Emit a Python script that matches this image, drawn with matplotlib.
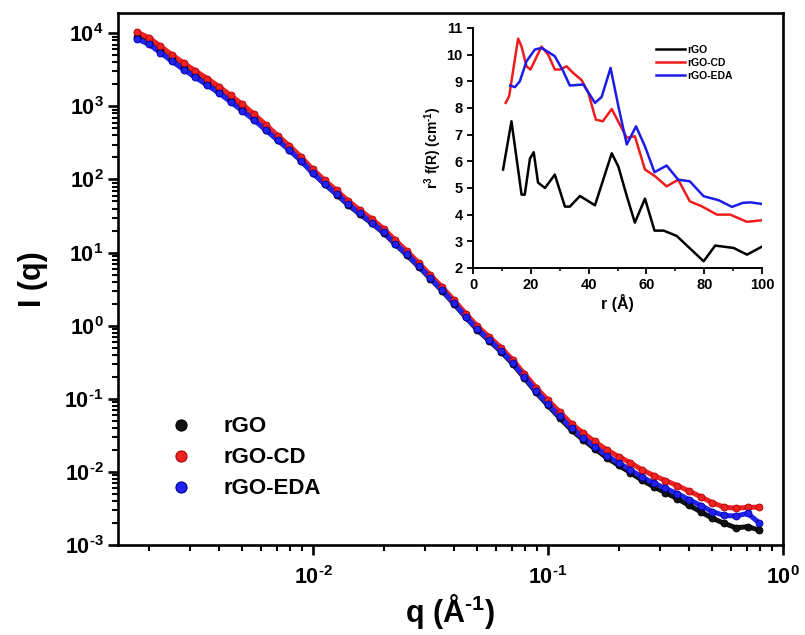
"""
SAXS intensity curves of rGO, rGO-CD and rGO-EDA with an inset showing the
size distribution r^3 f(R).
"""

import math

import matplotlib

matplotlib.use("Agg")

import matplotlib.pyplot as plt
from matplotlib.lines import Line2D
from matplotlib.ticker import FuncFormatter, LogLocator, MultipleLocator, NullFormatter

# Main panel: scattering vector q (1/A) shared by the three samples.
q = [
    0.00178, 0.00200, 0.00224, 0.00251, 0.00282, 0.00316, 0.00355, 0.00398,
    0.00447, 0.00501, 0.00562, 0.00631, 0.00708, 0.00794, 0.00891, 0.0100,
    0.0112, 0.0126, 0.0141, 0.0158, 0.0178, 0.0200, 0.0224, 0.0251,
    0.0282, 0.0316, 0.0355, 0.0398, 0.0447, 0.0501, 0.0562, 0.0631,
    0.0708, 0.0794, 0.0891, 0.100, 0.112, 0.126, 0.141, 0.158,
    0.178, 0.200, 0.224, 0.251, 0.282, 0.316, 0.355, 0.398,
    0.447, 0.501, 0.562, 0.631, 0.708, 0.794,
]

i_rgo = [
    8820, 7430, 5720, 4350, 3340, 2610, 2050, 1580,
    1190, 890, 662, 480, 349, 253, 180, 121,
    86.8, 62.3, 45.0, 33.6, 25.1, 18.5, 13.0, 9.20,
    6.40, 4.38, 2.98, 1.99, 1.30, 0.872, 0.622, 0.443,
    0.300, 0.192, 0.122, 0.0810, 0.0550, 0.0374, 0.0277, 0.0208,
    0.0156, 0.0123, 0.00980, 0.00772, 0.00627, 0.00520, 0.00430, 0.00350,
    0.00285, 0.00232, 0.00198, 0.00172, 0.00178, 0.00160,
]

i_rgo_cd = [
    10400, 8710, 6700, 5090, 3910, 3060, 2400, 1870,
    1410, 1066, 779, 557, 399, 289, 203, 137,
    98.2, 70.8, 51.3, 38.4, 28.8, 21.2, 14.8, 10.5,
    7.21, 4.93, 3.36, 2.24, 1.46, 0.985, 0.704, 0.503,
    0.341, 0.219, 0.142, 0.0957, 0.0666, 0.0455, 0.0341, 0.0262,
    0.0200, 0.0162, 0.0134, 0.0107, 0.00893, 0.00763, 0.00650, 0.00549,
    0.00458, 0.00378, 0.00330, 0.00318, 0.00328, 0.00330,
]

i_rgo_eda = [
    8400, 7080, 5450, 4140, 3180, 2490, 1950, 1520,
    1150, 867, 649, 472, 344, 251, 180, 122,
    87.7, 63.2, 45.8, 34.3, 25.7, 18.9, 13.3, 9.42,
    6.55, 4.48, 3.05, 2.04, 1.33, 0.895, 0.640, 0.457,
    0.310, 0.199, 0.127, 0.0847, 0.0579, 0.0396, 0.0294, 0.0222,
    0.0167, 0.0133, 0.0107, 0.00853, 0.00703, 0.00596, 0.00504, 0.00419,
    0.00347, 0.00286, 0.00254, 0.00249, 0.00271, 0.00200,
]

# Inset: r^3 f(R) versus r (A), one r grid per sample.
r_rgo = [10.4, 13.3, 16.8, 17.9, 19.7, 21.0, 22.5, 24.9, 28.3, 31.8, 33.5,
         37.0, 42.2, 48.0, 50.3, 53.2, 56.0, 59.5, 62.8, 66.0, 70.5, 79.8,
         83.8, 90.2, 94.8, 100.0]
f_rgo = [5.69, 7.50, 4.75, 4.75, 6.10, 6.34, 5.20, 5.00, 5.50, 4.30, 4.30,
         4.70, 4.35, 6.30, 5.80, 4.70, 3.70, 4.60, 3.40, 3.40, 3.20, 2.25,
         2.84, 2.75, 2.50, 2.80]

r_rgo_cd = [11.3, 12.5, 15.6, 16.8, 18.5, 19.9, 23.7, 26.0, 28.3, 30.0, 32.4,
            34.7, 37.6, 39.9, 42.5, 44.9, 48.0, 53.2, 56.0, 59.5, 63.0, 67.0,
            71.0, 75.0, 79.2, 84.4, 89.0, 94.8, 100.0]
f_rgo_cd = [8.19, 8.44, 10.60, 10.30, 9.56, 9.44, 10.30, 10.00, 9.44, 9.44,
            9.56, 9.31, 9.04, 8.56, 7.56, 7.50, 7.96, 6.88, 6.94, 5.69, 5.44,
            5.06, 5.31, 4.50, 4.31, 4.00, 4.00, 3.73, 3.79]

r_rgo_eda = [12.9, 14.5, 16.2, 18.5, 21.4, 23.7, 26.0, 28.3, 31.2, 33.5, 38.2,
             42.2, 44.5, 47.6, 50.3, 53.2, 56.4, 59.5, 62.8, 67.0, 71.0, 75.0,
             79.8, 85.0, 89.6, 93.3, 96.0, 100.0]
f_rgo_eda = [8.84, 8.78, 9.00, 9.75, 10.19, 10.25, 10.10, 9.94, 9.38, 8.84,
             8.88, 8.19, 8.41, 9.50, 8.06, 6.63, 7.31, 6.56, 5.59, 5.84, 5.31,
             5.25, 4.69, 4.54, 4.29, 4.44, 4.46, 4.40]

labels = ["rGO", "rGO-CD", "rGO-EDA"]
colors = ["#111111", "#ee2222", "#2222ee"]
edge_colors = ["#000000", "#b00000", "#0000a0"]


def decade_label(value, _pos):
    """Format a decade as 10^n with a short hyphen for negative powers."""
    power = int(round(math.log10(value)))
    if power < 0:
        return r"$\mathregular{10^{\text{-}%d}}$" % abs(power)
    return r"$\mathregular{10^{%d}}$" % power


def make_figure(output_name: str = "out.png") -> None:
    """Draw the log-log SAXS curves and the inset, then save as PNG."""
    plt.rcParams["font.family"] = ["Liberation Sans", "DejaVu Sans"]
    plt.rcParams["font.weight"] = "bold"
    plt.rcParams["mathtext.fontset"] = "custom"
    plt.rcParams["mathtext.rm"] = "Liberation Sans:bold"
    plt.rcParams["mathtext.it"] = "Liberation Sans:italic:bold"
    plt.rcParams["mathtext.bf"] = "Liberation Sans:bold"

    fig = plt.figure(figsize=(8.05, 6.35), dpi=100)
    ax = fig.add_axes([0.1466, 0.1417, 0.826, 0.838])

    curves = [i_rgo, i_rgo_cd, i_rgo_eda]
    for intensity, color, edge in zip(curves, colors, edge_colors):
        ax.plot(q, intensity, "-", color=color, lw=3.6, zorder=2)
        ax.plot(q, intensity, "o", color=color, mec=edge, mew=0.6,
                ms=5.0, zorder=3)

    ax.set_xscale("log")
    ax.set_yscale("log")
    ax.set_xlim(0.00148, 1.0)
    ax.set_ylim(1e-3, 1.9e4)
    ax.yaxis.set_major_locator(LogLocator(base=10, numticks=20))
    ax.yaxis.set_minor_locator(LogLocator(base=10, subs=range(2, 10), numticks=20))
    ax.yaxis.set_minor_formatter(NullFormatter())
    ax.xaxis.set_minor_formatter(NullFormatter())
    ax.xaxis.set_major_formatter(FuncFormatter(decade_label))
    ax.yaxis.set_major_formatter(FuncFormatter(decade_label))

    for side in ax.spines.values():
        side.set_linewidth(1.9)
    ax.tick_params(axis="both", which="major", direction="out", length=7,
                   width=1.9, labelsize=15.5, top=False, right=False)
    ax.tick_params(axis="both", which="minor", direction="out", length=4,
                   width=1.5, top=False, right=False)
    ax.tick_params(axis="x", which="major", pad=8)

    ax.set_xlabel(r"q (Å$^{\text{-}1}$)", fontsize=22, fontweight="bold", labelpad=2)
    ax.set_ylabel("I (q)", fontsize=22, fontweight="bold", labelpad=12)

    handles = [
        Line2D([], [], ls="none", marker="o", color=c, mec=e, ms=8, mew=0.8)
        for c, e in zip(colors, edge_colors)
    ]
    ax.legend(handles, labels, loc="lower left", bbox_to_anchor=(0.045, 0.048),
              frameon=False, fontsize=16, handletextpad=1.3, labelspacing=0.45,
              handlelength=1.2)

    # Inset with the size distribution.
    ins = fig.add_axes([0.5876, 0.578, 0.359, 0.378])
    inset_series = [(r_rgo, f_rgo), (r_rgo_cd, f_rgo_cd), (r_rgo_eda, f_rgo_eda)]
    for (r, f), color, label in zip(inset_series, ["black", "#ee1c1c", "#1c1ce8"], labels):
        ins.plot(r, f, color=color, lw=1.8, label=label)

    ins.set_xlim(0, 100)
    ins.set_ylim(2, 11)
    ins.xaxis.set_major_locator(MultipleLocator(20))
    ins.xaxis.set_minor_locator(MultipleLocator(10))
    ins.yaxis.set_major_locator(MultipleLocator(1))
    ins.spines["top"].set_visible(False)
    ins.spines["right"].set_visible(False)
    for side in ("left", "bottom"):
        ins.spines[side].set_linewidth(1.4)
    ins.tick_params(axis="both", which="major", direction="out", length=4,
                    width=1.3, labelsize=10.5)
    ins.tick_params(axis="both", which="minor", direction="out", length=2.5,
                    width=1.1)
    ins.set_xlabel("r (Å)", fontsize=11.5, fontweight="bold", labelpad=1)
    ins.set_ylabel(r"r$^{3}$ f(R) (cm$^{\text{-}1}$)", fontsize=10,
                   fontweight="bold", labelpad=2)
    ins.legend(loc="upper right", bbox_to_anchor=(0.93, 0.97), frameon=False,
               fontsize=7.5, handlelength=2.8, handletextpad=0.2,
               labelspacing=0.3)

    fig.savefig(output_name, dpi=100, facecolor="white")
    plt.close(fig)


if __name__ == "__main__":
    make_figure()
